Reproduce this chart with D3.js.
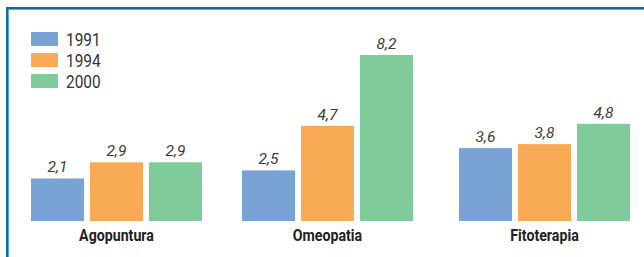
<!DOCTYPE html>
<meta charset="utf-8">
<style>
  body { margin: 0; background: #fff; }
  text { font-family: Roboto, "Liberation Sans", sans-serif; }
</style>
<script src="https://d3js.org/d3.v7.min.js"></script>
<div id="chart"></div>
<script>
// categories, series and values
var categories = ["Agopuntura", "Omeopatia", "Fitoterapia"];
var years = ["1991", "1994", "2000"];
var v1991 = [2.1, 2.5, 3.6];
var v1994 = [2.9, 4.7, 3.8];
var v2000 = [2.9, 8.2, 4.8];
var colors = ["#79a3d5", "#f8aa55", "#80cb9b"];

var series = [v1991, v1994, v2000];
var rows = [];
categories.forEach(function(c, i) {
  years.forEach(function(y, j) {
    rows.push({cat: c, year: y, value: series[j][i]});
  });
});

var W = 644, H = 257;
var baseline = 221;
var groupWidth = 171;

var svg = d3.select("#chart").append("svg")
  .attr("width", W)
  .attr("height", H);

// frame: left and top blue rule
svg.append("rect").attr("x", 6).attr("y", 7).attr("width", 2).attr("height", H).attr("fill", "#0a6db3");
svg.append("rect").attr("x", 8).attr("y", 9).attr("width", 1).attr("height", H).attr("fill", "#5aa7de");
svg.append("rect").attr("x", 6).attr("y", 7).attr("width", W).attr("height", 2).attr("fill", "#0a6db3");
svg.append("rect").attr("x", 8).attr("y", 9).attr("width", W).attr("height", 1).attr("fill", "#5aa7de");

// group positions (the groups are not evenly spaced in the original)
var x0 = d3.scaleOrdinal()
  .domain(categories)
  .range([31, 242, 459]);

var x1 = d3.scaleBand()
  .domain(years)
  .range([0, groupWidth])
  .paddingInner(0.1);

var y = d3.scaleLinear()
  .domain([0, 8.2])
  .range([baseline, baseline - 166]);

var color = d3.scaleOrdinal().domain(years).range(colors);

svg.selectAll("rect.bar")
  .data(rows)
  .enter().append("rect")
    .attr("class", "bar")
    .attr("x", function(d) { return x0(d.cat) + x1(d.year); })
    .attr("y", function(d) { return y(d.value); })
    .attr("width", x1.bandwidth())
    .attr("height", function(d) { return baseline - y(d.value); })
    .attr("fill", function(d) { return color(d.year); });

// value labels (comma decimal)
svg.selectAll("text.val")
  .data(rows)
  .enter().append("text")
    .attr("class", "val")
    .attr("x", function(d) { return x0(d.cat) + x1(d.year) + x1.bandwidth() / 2; })
    .attr("y", function(d) { return y(d.value) - 6; })
    .attr("text-anchor", "middle")
    .attr("font-size", 15.5)
    .attr("font-style", "italic")
    .attr("fill", "#3a3a3a")
    .text(function(d) { return d.value.toFixed(1).replace(".", ","); });

// category labels
svg.selectAll("text.cat")
  .data(categories)
  .enter().append("text")
    .attr("class", "cat")
    .attr("transform", function(d) {
      return "translate(" + (x0(d) + groupWidth / 2) + ",241) scale(0.86,1)";
    })
    .attr("text-anchor", "middle")
    .attr("font-size", 16.5)
    .attr("font-weight", "bold")
    .attr("fill", "#222")
    .text(function(d) { return d; });

// legend
var legend = svg.selectAll("g.leg")
  .data(years)
  .enter().append("g")
    .attr("class", "leg")
    .attr("transform", function(d, i) { return "translate(31," + (32 + i * 21) + ")"; });

legend.append("rect")
  .attr("width", 27)
  .attr("height", 14)
  .attr("fill", function(d) { return color(d); });

legend.append("text")
  .attr("transform", "translate(35,13.5) scale(0.88,1)")
  .attr("font-size", 17.5)
  .attr("fill", "#333")
  .text(function(d) { return d; });
</script>
